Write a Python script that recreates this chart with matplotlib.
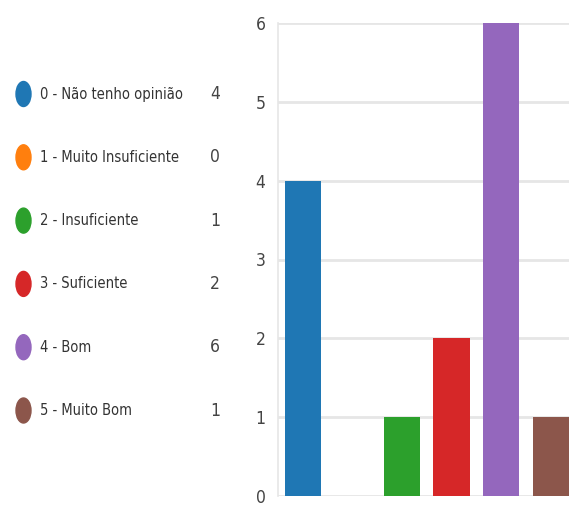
import matplotlib
matplotlib.use("Agg")
import matplotlib.pyplot as plt
from matplotlib import font_manager as fm
from matplotlib.patches import Ellipse

# --- data ---
categories = ["0 - Não tenho opinião", "1 - Muito Insuficiente", "2 - Insuficiente",
              "3 - Suficiente", "4 - Bom", "5 - Muito Bom"]
counts = [4, 0, 1, 2, 6, 1]
colors = ["#1f77b4", "#ff7f0e", "#2ca02c", "#d62728", "#9467bd", "#8c564b"]
yticks = [0, 1, 2, 3, 4, 5, 6]

W, H = 569, 509


def narrow_font():
    # the original uses a tall, very narrow font: look for a condensed face
    wanted = ["NotoSans-ExtraCondensed.ttf", "NotoSans-Condensed.ttf",
              "LiberationSansNarrow-Regular.ttf", "DejaVuSansCondensed.ttf",
              "NotoSans-SemiCondensed.ttf"]
    files = {f.fname.split("/")[-1]: f.fname for f in fm.fontManager.ttflist}
    for w in wanted:
        if w in files:
            return fm.FontProperties(fname=files[w])
    return fm.FontProperties(family="Roboto")


fp = narrow_font()
size = 10.5
tick_size = 12.5

fig = plt.figure(figsize=(W / 100, H / 100), dpi=100)

# bar chart (right part, clipped by the figure edge like the original)
ax = fig.add_axes([278 / W, 1 - 496 / H, (W - 278) / W, (496 - 23) / H])
ax.bar(range(len(counts)), counts, width=0.73, color=colors, zorder=3)
ax.set_xlim(-0.5, 5.37)
ax.set_ylim(0, 6)
ax.set_yticks(yticks)
ax.set_xticks([])
ax.grid(axis="y", color="#e6e6e6", linewidth=2, zorder=0)
for side in ["top", "right", "bottom"]:
    ax.spines[side].set_visible(False)
ax.spines["left"].set_color("#e6e6e6")
ax.spines["left"].set_linewidth(1.2)
ax.tick_params(axis="y", length=0, pad=9, labelcolor="#444444")
for lab in ax.get_yticklabels():
    lab.set_fontproperties(fp)
    lab.set_fontsize(tick_size)

# legend on the left drawn in pixel coordinates
lg = fig.add_axes([0, 0, 1, 1])
lg.set_xlim(0, W)
lg.set_ylim(H, 0)
lg.axis("off")
for i, (name, n, c) in enumerate(zip(categories, counts, colors)):
    y = 94 + i * 63.3
    lg.add_patch(Ellipse((23.5, y), 15, 25, color=c))
    lg.text(40, y, name, fontproperties=fp, fontsize=size, color="#333333",
            va="center", ha="left")
    lg.text(215, y, str(n), fontproperties=fp, fontsize=tick_size, color="#444444",
            va="center", ha="center")

fig.savefig("out.png", dpi=100)
